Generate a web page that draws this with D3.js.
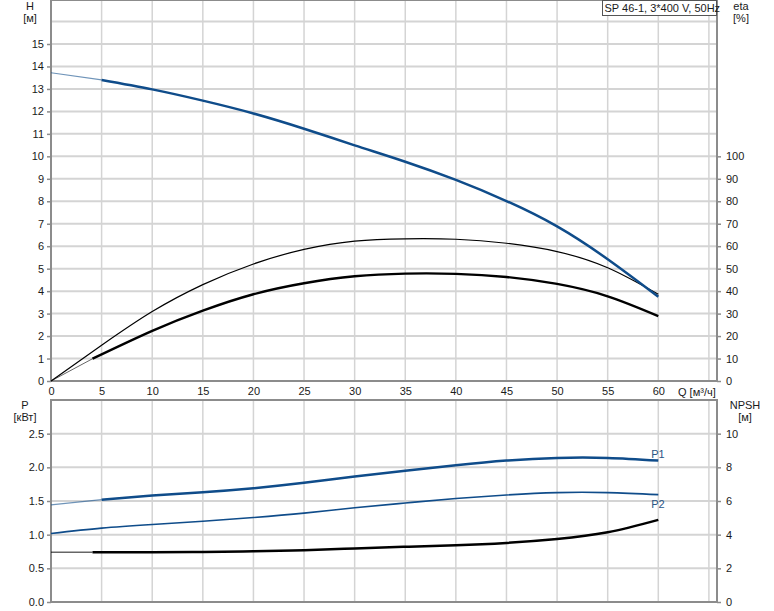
<!DOCTYPE html>
<html>
<head>
<meta charset="utf-8">
<script src="https://cdn.jsdelivr.net/npm/d3@7"></script>
<style>
  html, body { margin: 0; padding: 0; background: #fff; }
  svg { display: block; font-family: "Liberation Sans", Arial, sans-serif; }
</style>
</head>
<body>
<svg id="chart" width="774" height="611"></svg>
<script>
// ---------- DATA ----------
const title = "SP 46-1, 3*400 V, 50Hz";
const qTicks = [0, 5, 10, 15, 20, 25, 30, 35, 40, 45, 50, 55, 60];
const qGrid = [5, 10, 15, 20, 25, 30, 35, 40, 45, 50, 55, 60, 65];
const hTicks = [0, 1, 2, 3, 4, 5, 6, 7, 8, 9, 10, 11, 12, 13, 14, 15];
const hGrid = [1, 2, 3, 4, 5, 6, 7, 8, 9, 10, 11, 12, 13, 14, 15, 16];
const etaTicks = [0, 10, 20, 30, 40, 50, 60, 70, 80, 90, 100];
const pTicks = [0, 0.5, 1.0, 1.5, 2.0, 2.5];
const npshTicks = [0, 2, 4, 6, 8, 10];

// Head curve H [m]
const headQ = [0, 5, 10, 15, 20, 25, 30, 35, 40, 45, 50, 55, 60];
const headH = [13.72, 13.40, 12.98, 12.48, 11.91, 11.23, 10.49, 9.76, 8.95, 8.01, 6.88, 5.42, 3.75];
const headThickFrom = 5;

// Hydraulic efficiency (thin) [%]
const etaHydQ = [0, 5, 10, 15, 20, 25, 30, 35, 40, 45, 50, 55, 60];
const etaHyd = [0, 15.9, 30.9, 42.9, 52.1, 58.6, 62.3, 63.3, 63.1, 61.3, 57.6, 50.4, 38.6];

// Total efficiency (thick) [%]
const etaTotQ = [0, 4.1, 10, 15, 20, 25, 30, 35, 40, 45, 50, 55, 60];
const etaTot = [0, 9.9, 22.3, 31.3, 38.6, 43.5, 46.6, 47.8, 47.7, 46.3, 43.2, 37.7, 28.9];
const etaTotThickFrom = 4.1;

// Power P1, P2 [kW]
const powerQ = [0, 5, 10, 15, 20, 25, 30, 35, 40, 45, 50, 55, 60];
const p1 = [1.443, 1.52, 1.58, 1.63, 1.69, 1.77, 1.865, 1.95, 2.03, 2.10, 2.14, 2.14, 2.10];
const p2 = [1.018, 1.097, 1.151, 1.20, 1.255, 1.32, 1.40, 1.47, 1.536, 1.59, 1.625, 1.625, 1.595];
const p1ThickFrom = 5;

// NPSH [m]
const npshQ = [0, 4.1, 10, 15, 20, 25, 30, 35, 40, 45, 50, 55, 60];
const npsh = [2.95, 2.95, 2.95, 2.97, 3.01, 3.08, 3.18, 3.28, 3.37, 3.51, 3.74, 4.14, 4.88];
const npshThickFrom = 4.1;

// ---------- LAYOUT ----------
const svg = d3.select("#chart");
const left = 51, right = 717;
const topY0 = 0, topY1 = 381;
const botY0 = 400, botY1 = 602;

const x = d3.scaleLinear().domain([0, 65.8]).range([left, right]);
const yH = d3.scaleLinear().domain([0, 15]).range([381, 44]);
const yEta = d3.scaleLinear().domain([0, 100]).range([yH(0), yH(10)]);
const yP = d3.scaleLinear().domain([0, 3]).range([602, 400]);
const yN = d3.scaleLinear().domain([0, 12]).range([602, 400]);

const gridColor = "#d4d4d4";
const axisColor = "#8c8c8c";
const blue = "#0f4c8a";
const fontSize = 11;

// ---------- GRID ----------
function grid(y0, y1, yScale, yVals) {
  const g = svg.append("g");
  g.selectAll(".vg").data(qGrid).enter().append("line")
    .attr("x1", d => x(d)).attr("x2", d => x(d))
    .attr("y1", y0).attr("y2", y1)
    .attr("stroke", gridColor).attr("stroke-width", 1.5);
  g.selectAll(".hg").data(yVals).enter().append("line")
    .attr("x1", left).attr("x2", right)
    .attr("y1", d => yScale(d)).attr("y2", d => yScale(d))
    .attr("stroke", gridColor).attr("stroke-width", 2);
}
grid(topY0, topY1, yH, hGrid);
grid(botY0, botY1, yP, [0.5, 1.0, 1.5, 2.0, 2.5]);

// ---------- FRAMES ----------
function frame(y0, y1) {
  svg.append("rect").attr("x", left).attr("y", y0)
    .attr("width", right - left).attr("height", y1 - y0)
    .attr("fill", "none").attr("stroke", axisColor).attr("stroke-width", 2);
}
frame(topY0, topY1);
frame(botY0, botY1);

// ---------- AXES ----------
function styleAxis(g) {
  g.select(".domain").remove();
  g.selectAll(".tick line").attr("stroke", axisColor).attr("stroke-width", 1.5);
  g.selectAll(".tick text").attr("fill", "#1a1a1a")
    .style("font-size", fontSize + "px")
    .style("font-family", "'Liberation Sans', Arial, sans-serif");
}
svg.append("g").attr("transform", `translate(${left},0)`)
  .call(d3.axisLeft(yH).tickValues(hTicks).tickSize(4).tickPadding(3).tickFormat(d3.format("d")))
  .call(styleAxis);
svg.append("g").attr("transform", `translate(${right},0)`)
  .call(d3.axisRight(yEta).tickValues(etaTicks).tickSize(4).tickPadding(5).tickFormat(d3.format("d")))
  .call(styleAxis);
svg.append("g").attr("transform", `translate(0,${topY1})`)
  .call(d3.axisBottom(x).tickValues(qTicks).tickSize(0).tickPadding(6).tickFormat(d3.format("d")))
  .call(styleAxis);
svg.append("g").attr("transform", `translate(${left},0)`)
  .call(d3.axisLeft(yP).tickValues(pTicks).tickSize(4).tickPadding(3).tickFormat(d3.format(".1f")))
  .call(styleAxis);
svg.append("g").attr("transform", `translate(${right},0)`)
  .call(d3.axisRight(yN).tickValues(npshTicks).tickSize(4).tickPadding(5).tickFormat(d3.format("d")))
  .call(styleAxis);

// ---------- LABELS ----------
function label(tx, ty, t, anchor) {
  svg.append("text").attr("x", tx).attr("y", ty).text(t)
    .attr("text-anchor", anchor || "middle")
    .attr("fill", "#1a1a1a").style("font-size", fontSize + "px");
}
label(30, 10, "H");
label(30, 22, "[м]");
label(741, 10, "eta");
label(741, 22, "[%]");
label(25, 409, "P");
label(25, 421, "[кВт]");
label(745, 409, "NPSH");
label(745, 421, "[м]");
label(678, 396, "Q [м³/ч]", "start");

// Title box
svg.append("rect").attr("x", 602.5).attr("y", 0.5).attr("width", 114).attr("height", 15)
  .attr("fill", "#fff").attr("stroke", "#555").attr("stroke-width", 1);
label(604.5, 12, title, "start");

// ---------- CURVES ----------
function series(qs, vs, yScale, fromQ, color, wThick, wThin) {
  const pts = qs.map((q, i) => [q, vs[i]]);
  const line = d3.line().x(d => x(d[0])).y(d => yScale(d[1])).curve(d3.curveNatural);
  const thin = pts.filter(d => d[0] <= fromQ);
  const thick = pts.filter(d => d[0] >= fromQ);
  if (thin.length > 1) {
    svg.append("path").attr("d", line(thin)).attr("fill", "none")
      .attr("stroke", color).attr("stroke-opacity", 0.6).attr("stroke-width", wThin);
  }
  svg.append("path").attr("d", line(thick)).attr("fill", "none")
    .attr("stroke", color).attr("stroke-width", wThick)
    .attr("stroke-linecap", "butt");
}
series(etaHydQ, etaHyd, yEta, 0, "#000", 1.2, 1);
series(etaTotQ, etaTot, yEta, etaTotThickFrom, "#000", 2.4, 1);
series(headQ, headH, yH, headThickFrom, blue, 2.5, 1.2);
series(powerQ, p2, yP, 0, blue, 1.6, 1);
series(powerQ, p1, yP, p1ThickFrom, blue, 2.5, 1.2);
series(npshQ, npsh, yN, npshThickFrom, "#000", 2.5, 1.5);

// Curve labels
svg.append("text").attr("x", x(60) - 7).attr("y", yP(p1[p1.length - 1]) - 3)
  .text("P1").attr("fill", "#2a5585").style("font-size", fontSize + "px");
svg.append("text").attr("x", x(60) - 7).attr("y", yP(p2[p2.length - 1]) + 13)
  .text("P2").attr("fill", "#2a5585").style("font-size", fontSize + "px");
</script>
</body>
</html>
